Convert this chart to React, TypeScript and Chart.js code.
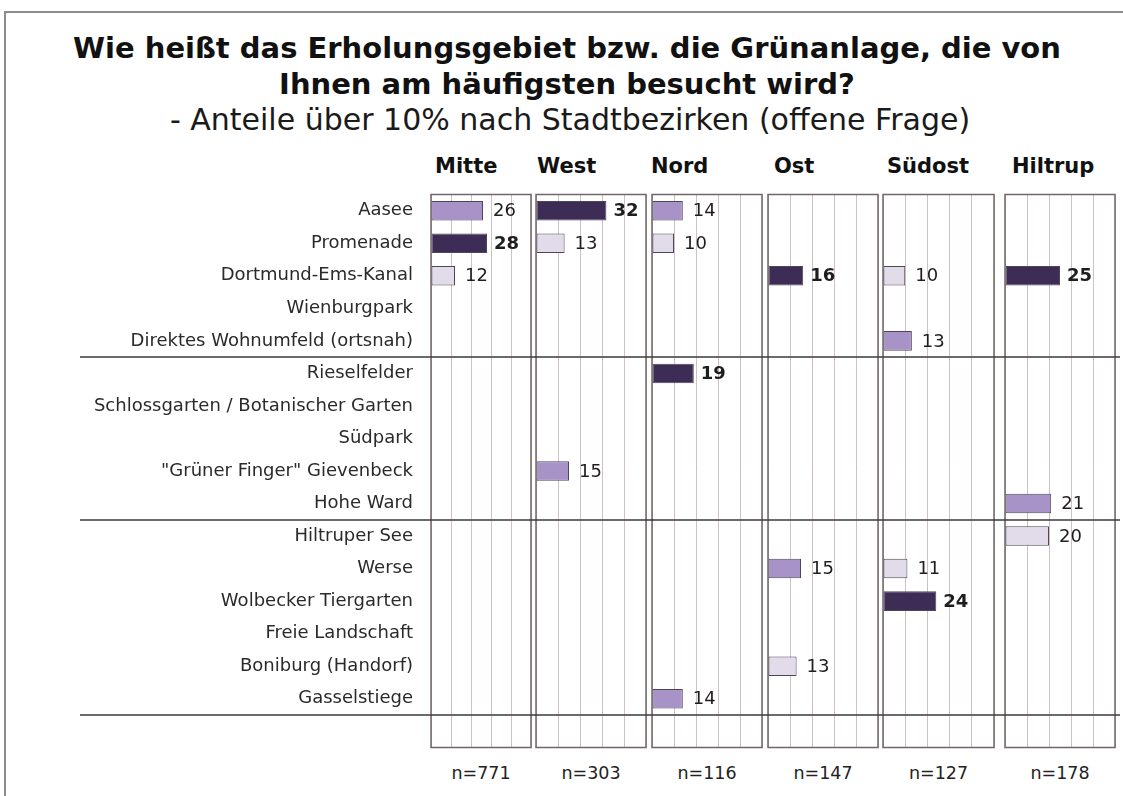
import React, { useEffect, useRef } from "react";
import { Chart, registerables } from "chart.js";

Chart.register(...registerables);

// ---------- data ----------
const categories = [
  "Aasee",
  "Promenade",
  "Dortmund-Ems-Kanal",
  "Wienburgpark",
  "Direktes Wohnumfeld (ortsnah)",
  "Rieselfelder",
  "Schlossgarten / Botanischer Garten",
  "Südpark",
  "\"Grüner Finger\" Gievenbeck",
  "Hohe Ward",
  "Hiltruper See",
  "Werse",
  "Wolbecker Tiergarten",
  "Freie Landschaft",
  "Boniburg (Handorf)",
  "Gasselstiege",
];

const districts = ["Mitte", "West", "Nord", "Ost", "Südost", "Hiltrup"];
const sampleSizes = ["n=771", "n=303", "n=116", "n=147", "n=127", "n=178"];

const N = null;
const mitteValues = [26, 28, 12, N, N, N, N, N, N, N, N, N, N, N, N, N];
const westValues = [32, 13, N, N, N, N, N, N, 15, N, N, N, N, N, N, N];
const nordValues = [14, 10, N, N, N, 19, N, N, N, N, N, N, N, N, N, 14];
const ostValues = [N, N, 16, N, N, N, N, N, N, N, N, 15, N, N, 13, N];
const suedostValues = [N, N, 10, N, 13, N, N, N, N, N, N, 11, 24, N, N, N];
const hiltrupValues = [N, N, 25, N, N, N, N, N, N, 21, 20, N, N, N, N, N];

const districtValues = [mitteValues, westValues, nordValues, ostValues, suedostValues, hiltrupValues];

// group boundaries (row counts after which a separator line is drawn)
const groupEnds = [5, 10, 16];
const axisMax = 50;
const axisStep = 10;

// ---------- layout / style ----------
const FONT = "'DejaVu Sans', Verdana, sans-serif";
const PANEL_LEFT = [431, 536, 652, 768, 883, 1005];
const PANEL_RIGHT = [531, 646, 762, 878, 994, 1115];
const HEADER_X = [435, 537, 651, 774, 887, 1012];
const LINE_END = 1120;
const LINE_START = 80;
const AREA_TOP = 194.5;
const AREA_BOTTOM = 747.5;
const CANVAS_TOP = 188;
const CANVAS_BOTTOM = 760;

const DARK = "#3d2c56";
const MID = "#a893c9";
const LIGHT = "#e2dcea";
const BAR_BORDER = "#4e4556";
const GRID = "#cdc2c0";
const PANEL_BORDER = "#6f6767";
const SEP = "#3a3a3a";

function tierColors(vals: (number | null)[]) {
  const present = vals.filter((v) => v != null) as number[];
  const max = Math.max(...present);
  const rest = present.filter((v) => v < max);
  const second = rest.length ? Math.max(...rest) : -1;
  return vals.map((v) =>
    v == null ? "rgba(0,0,0,0)" : v === max ? DARK : v === second ? MID : LIGHT
  );
}

function spanOf(i: number) {
  const start = i === 0 ? 0 : Math.round((PANEL_RIGHT[i - 1] + PANEL_LEFT[i]) / 2);
  const end = i === districtValues.length - 1 ? LINE_END : Math.round((PANEL_RIGHT[i] + PANEL_LEFT[i + 1]) / 2);
  return { start, end };
}

export default function App() {
  const refs = useRef<(HTMLCanvasElement | null)[]>([]);

  useEffect(() => {
    const charts: Chart[] = [];
    districtValues.forEach((vals, i) => {
      const canvas = refs.current[i];
      if (!canvas) return;
      const { start, end } = spanOf(i);
      const colors = tierColors(vals);
      const present = vals.filter((v) => v != null) as number[];
      const max = Math.max(...present);

      const decor = {
        id: "decor" + i,
        afterDatasetsDraw(chart: any) {
          const ctx = chart.ctx;
          const a = chart.chartArea;
          const meta = chart.getDatasetMeta(0);
          // value labels
          ctx.save();
          ctx.textBaseline = "middle";
          ctx.textAlign = "left";
          meta.data.forEach((bar: any, j: number) => {
            const v = vals[j];
            if (v == null) return;
            const bold = v === max;
            ctx.font = (bold ? "bold " : "") + "18px " + FONT;
            ctx.fillStyle = "#1e1e1e";
            ctx.fillText(String(v), bar.x + (bold ? 7 : 10), bar.y + 1);
          });
          ctx.restore();
          // panel frame
          ctx.save();
          ctx.strokeStyle = PANEL_BORDER;
          ctx.lineWidth = 1.5;
          ctx.strokeRect(a.left, a.top, a.right - a.left, a.bottom - a.top);
          ctx.restore();
          // group separators
          const ys = chart.scales.y;
          ctx.save();
          ctx.strokeStyle = SEP;
          ctx.lineWidth = 1.6;
          groupEnds.forEach((g) => {
            const y = Math.round(ys.getPixelForValue(g - 0.5));
            ctx.beginPath();
            ctx.moveTo(i === 0 ? LINE_START : 0, y);
            ctx.lineTo(chart.width, y);
            ctx.stroke();
          });
          ctx.restore();
        },
      };

      const yScale: any = {
        display: i === 0,
        grid: { display: false, drawTicks: false },
        border: { display: false },
        ticks: { font: { family: FONT, size: 18 }, color: "#2a2a2a", padding: 18 },
      };
      if (i === 0) {
        yScale.afterFit = (s: any) => {
          s.width = PANEL_LEFT[0];
          s.paddingTop = 0;
          s.paddingBottom = 0;
        };
      }

      const chart = new Chart(canvas, {
        type: "bar",
        data: {
          labels: [...categories, ""],
          datasets: [
            {
              data: [...vals, null] as any,
              backgroundColor: colors,
              borderColor: BAR_BORDER,
              borderWidth: 1,
              borderSkipped: false,
              barPercentage: 0.6,
              categoryPercentage: 1,
            },
          ],
        },
        options: {
          indexAxis: "y",
          responsive: false,
          animation: false,
          events: [],
          layout: {
            padding: {
              left: i === 0 ? 0 : PANEL_LEFT[i] - start,
              right: end - PANEL_RIGHT[i],
              top: AREA_TOP - CANVAS_TOP,
              bottom: CANVAS_BOTTOM - AREA_BOTTOM,
            },
          },
          plugins: { legend: { display: false }, tooltip: { enabled: false } },
          scales: {
            x: {
              type: "linear",
              min: 0,
              max: axisMax,
              ticks: { display: false, stepSize: axisStep },
              grid: { color: GRID, lineWidth: 1, drawTicks: false },
              border: { display: false },
              afterFit: (s: any) => {
                s.height = 0;
                s.paddingLeft = 0;
                s.paddingRight = 0;
              },
            },
            y: yScale,
          },
        },
        plugins: [decor],
      } as any);
      charts.push(chart);
    });
    return () => charts.forEach((c) => c.destroy());
  }, []);

  const canvases = districtValues.map((_, i) => {
    const { start, end } = spanOf(i);
    const w = end - start;
    const h = CANVAS_BOTTOM - CANVAS_TOP;
    return (
      <canvas
        key={i}
        ref={(el) => {
          refs.current[i] = el;
        }}
        width={w}
        height={h}
        style={{ position: "absolute", left: start, top: CANVAS_TOP, width: w, height: h }}
      />
    );
  });

  return (
    <div
      style={{
        position: "absolute",
        left: 0,
        top: 0,
        width: 1123,
        height: 796,
        overflow: "hidden",
        background: "#ffffff",
        fontFamily: FONT,
        color: "#111",
      }}
    >
      <div
        style={{
          position: "absolute",
          left: 4,
          top: 11,
          width: 1140,
          height: 820,
          borderLeft: "2px solid #8c8c8c",
          borderTop: "2px solid #8c8c8c",
        }}
      />
      <div
        style={{
          position: "absolute",
          left: 0,
          width: 1134,
          top: 30,
          textAlign: "center",
          fontWeight: "bold",
          fontSize: 29,
          lineHeight: "36px",
          whiteSpace: "nowrap",
        }}
      >
        Wie heißt das Erholungsgebiet bzw. die Grünanlage, die von
        <br />
        Ihnen am häufigsten besucht wird?
      </div>
      <div
        style={{
          position: "absolute",
          left: 0,
          width: 1140,
          top: 102,
          textAlign: "center",
          fontSize: 30,
          lineHeight: "36px",
          whiteSpace: "nowrap",
          color: "#1a1a1a",
        }}
      >
        - Anteile über 10% nach Stadtbezirken (offene Frage)
      </div>
      {districts.map((d, i) => (
        <div
          key={d}
          style={{
            position: "absolute",
            left: HEADER_X[i],
            top: 151,
            fontWeight: "bold",
            fontSize: 21,
            lineHeight: "30px",
            whiteSpace: "nowrap",
          }}
        >
          {d}
        </div>
      ))}
      {canvases}
      {sampleSizes.map((n, i) => (
        <div
          key={n}
          style={{
            position: "absolute",
            left: (PANEL_LEFT[i] + PANEL_RIGHT[i]) / 2 - 60,
            width: 120,
            top: 761,
            textAlign: "center",
            fontSize: 17.5,
            lineHeight: "24px",
            whiteSpace: "nowrap",
            color: "#222",
          }}
        >
          {n}
        </div>
      ))}
    </div>
  );
}
